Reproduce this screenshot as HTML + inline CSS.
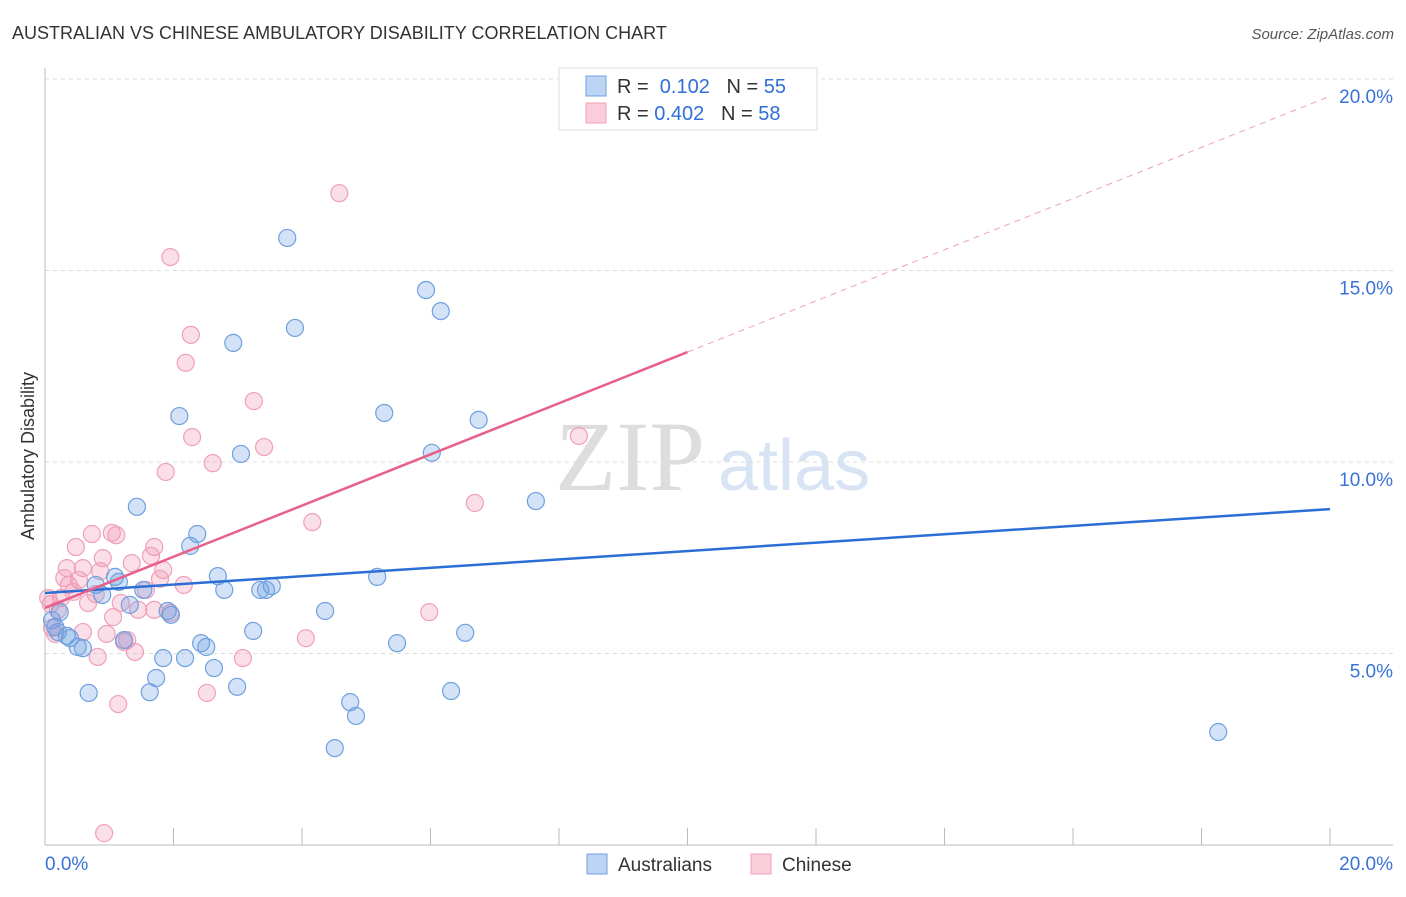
<!DOCTYPE html>
<html><head><meta charset="utf-8"><style>
body{margin:0;background:#fff;width:1406px;height:892px;overflow:hidden;font-family:"Liberation Sans",sans-serif}
</style></head><body>
<svg id="c" width="1406" height="892" font-family="Liberation Sans, sans-serif">
<text x="12" y="39" font-size="18" fill="#333">AUSTRALIAN VS CHINESE AMBULATORY DISABILITY CORRELATION CHART</text>
<text x="1394" y="39" font-size="15" fill="#555" font-style="italic" text-anchor="end">Source: ZipAtlas.com</text>
<text x="34" y="456" font-size="18" fill="#333" transform="rotate(-90 34 456)" text-anchor="middle">Ambulatory Disability</text>
<g><text x="555" y="490" font-size="100" style="font-family:'Liberation Serif',serif" fill="#ddd">ZIP</text><text x="718" y="490" font-size="72" fill="#d8e4f4">atlas</text></g>
<g id="grid"></g><g id="axes"></g><g id="pts"></g><g id="lines"></g>
<g>
<rect x="559" y="68" width="258" height="62" fill="#fff" stroke="#ddd"/>
<rect x="586" y="76" width="20" height="20" fill="#bcd5f4" stroke="#6fa0e0"/>
<text x="617" y="93" font-size="20" fill="#333">R = <tspan fill="#2f6fd8">&#160;0.102</tspan>&#160;&#160;&#160;N = <tspan fill="#2f6fd8">55</tspan></text>
<rect x="586" y="103" width="20" height="20" fill="#f9cdd9" stroke="#f0a0b8"/>
<text x="617" y="120" font-size="20" fill="#333">R = <tspan fill="#2f6fd8">0.402</tspan>&#160;&#160;&#160;N = <tspan fill="#2f6fd8">58</tspan></text>
</g>
<g>
<rect x="587" y="854" width="20" height="20" fill="#bcd5f4" stroke="#6fa0e0"/>
<text x="618" y="871" font-size="19" fill="#333">Australians</text>
<rect x="751" y="854" width="20" height="20" fill="#f9cdd9" stroke="#f0a0b8"/>
<text x="782" y="871" font-size="19" fill="#333">Chinese</text>
</g>
</svg>
<script>
const yTicks=[5,10,15,20];
const yTickLabels=["5.0%","10.0%","15.0%","20.0%"];
const xTickLabels=["0.0%","20.0%"];
const blueX=[3.77,3.89,5.93,6.16,2.93,2.09,5.28,6.75,3.05,6.02,1.43,7.64,2.37,2.26,5.17,2.69,2.79,3.35,3.44,3.53,1.09,1.15,0.79,0.89,1.53,1.32,1.91,1.96,4.36,6.54,3.24,2.43,2.51,5.48,0.16,0.20,0.34,0.39,0.51,0.59,1.84,2.18,2.63,1.73,2.99,0.68,1.63,4.75,4.84,6.32,4.51,18.26,1.23,0.23,0.11];
const blueY=[15.85,13.5,14.49,13.94,13.11,11.2,11.28,11.1,10.21,10.24,8.83,8.98,8.12,7.81,7.0,7.02,6.66,6.66,6.66,6.76,7.0,6.87,6.79,6.53,6.66,6.27,6.11,6.01,6.11,5.54,5.59,5.27,5.17,5.27,5.69,5.56,5.46,5.4,5.17,5.14,4.88,4.88,4.62,4.36,4.13,3.97,3.99,3.73,3.37,4.02,2.53,2.95,5.35,6.08,5.87];
const pinkX=[4.58,1.95,2.27,2.19,3.25,2.29,3.41,8.31,2.61,1.88,6.69,4.16,0.73,1.04,1.11,0.48,1.70,1.65,0.90,1.35,0.34,0.59,1.84,1.79,0.53,0.86,2.16,0.37,0.44,0.79,0.67,0.25,1.57,1.18,1.70,1.45,1.95,0.20,5.98,0.09,1.06,0.59,0.96,0.16,1.28,1.23,4.06,1.40,0.82,3.08,2.52,1.14,0.92,0.11,0.05,0.30];
const pinkY=[17.02,15.35,13.32,12.59,11.59,10.65,10.39,10.68,9.97,9.74,8.93,8.43,8.12,8.15,8.09,7.78,7.78,7.55,7.49,7.36,7.23,7.23,7.18,6.95,6.92,7.15,6.79,6.79,6.61,6.55,6.32,6.45,6.66,6.32,6.14,6.14,6.06,6.14,6.08,6.29,5.95,5.56,5.51,5.51,5.35,5.30,5.40,5.04,4.91,4.88,3.97,3.68,0.31,5.67,6.45,6.97];
const blueTrend=[6.58,8.77];
const pinkTrend=[6.19,19.55];
const NS="http://www.w3.org/2000/svg";
const X=v=>45+v*64.25, Y=v=>845-v*38.3;
function mk(t,a,p){const e=document.createElementNS(NS,t);for(const k in a)e.setAttribute(k,a[k]);document.getElementById(p).appendChild(e);return e;}
yTicks.forEach((t,i)=>{
 const g=mk('line',{x1:45,x2:1393,y1:Y(t),y2:Y(t),stroke:'#ddd','stroke-dasharray':'4,4'},'grid');
 
 
 const l=mk('text',{x:1393,y:Y(t)+24,'font-size':19,fill:'#3a72d8','text-anchor':'end'},'axes');
 l.textContent=yTickLabels[i];
 
 
});
const topLine=mk('line',{x1:45,x2:1393,y1:79,y2:79,stroke:'#ddd','stroke-dasharray':'4,4'},'grid');


const ya=mk('line',{x1:45,x2:45,y1:68,y2:845,stroke:'#bbb'},'axes');


const xa=mk('line',{x1:45,x2:1393,y1:845,y2:845,stroke:'#bbb'},'axes');


for(let i=1;i<=10;i++){
 const t=mk('line',{x1:X(i*2),x2:X(i*2),y1:845,y2:828,stroke:'#bbb'},'axes');
 
 
}
[[0,'start',45],[20,'end',1393]].forEach((d,i)=>{
 const l=mk('text',{x:d[2],y:870,'font-size':19,fill:'#3a72d8','text-anchor':d[1]},'axes');
 l.textContent=xTickLabels[i];
 
 
});
pinkX.forEach((v,i)=>{
 const c=mk('circle',{cx:X(v),cy:Y(pinkY[i]),r:8.5,fill:'rgba(240,150,180,0.3)',stroke:'#f0a0b8','stroke-width':1.2},'pts');
 
 
});
blueX.forEach((v,i)=>{
 const c=mk('circle',{cx:X(v),cy:Y(blueY[i]),r:8.5,fill:'rgba(110,160,225,0.3)',stroke:'#6fa0e0','stroke-width':1.2},'pts');
 
 
});
const bl=mk('line',{x1:X(0),y1:Y(blueTrend[0]),x2:X(20),y2:Y(blueTrend[1]),stroke:'#2b6fd6','stroke-width':2.5},'lines');


const pm=pinkTrend[0]+(pinkTrend[1]-pinkTrend[0])*0.5;
const pl=mk('line',{x1:X(0),y1:Y(pinkTrend[0]),x2:X(10),y2:Y(pm),stroke:'#e8608a','stroke-width':2.5},'lines');


const pd=mk('line',{x1:X(10),y1:Y(pm),x2:X(20),y2:Y(pinkTrend[1]),stroke:'#eea0b8','stroke-width':1,'stroke-dasharray':'6,5'},'lines');


</script>
</body></html>
